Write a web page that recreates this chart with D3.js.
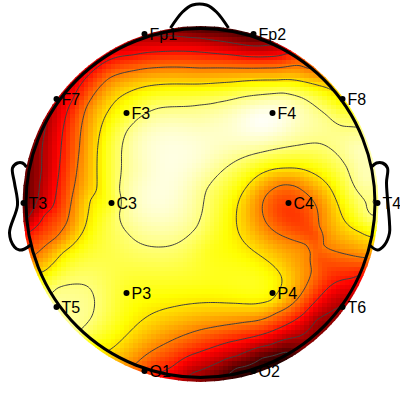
<!DOCTYPE html>
<html><head><meta charset="utf-8">
<style>html,body{margin:0;padding:0;background:#fff}svg{display:block}</style>
<script src="https://cdnjs.cloudflare.com/ajax/libs/d3/7.8.5/d3.min.js"></script>
</head><body><svg id="c" width="400" height="400"></svg>
<script>
// Head coordinates: centre 0,0; scalp radius 174.5; y up.
const electrodeNames=["Fp1","Fp2","F7","F3","F4","F8","T3","C3","C4","T4","T5","P3","P4","T6","O1","O2"];
const electrodeX=[-56,53,-144,-74,72,142,-177,-89,88,177,-144,-74,72,142,-56,53];
const electrodeY=[169,169,104,90,90,104,0,0,0,0,-104,-90,-90,-104,-168,-168];
const electrodeValues=[.24,.1,.3,.79,.98,.72,.14,.8,.47,.86,.92,.78,.73,.25,.48,.05];

// Iso-value readings [x,y] by level
const levels=[.10,.25,.40,.555,.71,.87];
const iso0=[[86,-149],[62,-155],[36,-165],[26,-173]];
const iso1=[[-41,167],[-1,165],[32,160],[69,158],[-154,83],[-156,70],[-159,33],[-161,18],[-166,-4],[-173,-15],[141,-102],[116,-117],[96,-134],[69,-142],[36,-153],[19,-159],[-8,-170]];
const iso2=[[-148,-4],[-143,20],[-138,70],[-128,103],[-104,135],[-68,148],[-1,151],[32,148],[82,148],[-156,-12],[-171,-29],[152,-75],[134,-80],[119,-94],[104,-110],[79,-125],[52,-134],[29,-139],[-1,-149],[-29,-164]];
const iso3=[[-129,3],[-124,30],[-121,56],[-114,96],[-91,125],[-58,134],[-1,135],[66,135],[106,135],[-134,-20],[-144,-34],[-166,-52],[82,18],[94,17],[64,5],[62,-9],[69,-24],[87,-35],[106,-42],[104,11],[116,-4],[119,-24],[123,-42],[131,-47],[159,-54],[110,-50],[111,-67],[107,-80],[96,-97],[76,-110],[46,-119],[19,-123],[-1,-127],[-34,-140],[-64,-160]];
const iso4=[[-110,3],[-104,13],[-103,53],[-98,80],[-84,103],[-61,115],[-1,119],[32,121],[76,123],[109,120],[127,115],[141,107],[-113,-14],[-121,-34],[-138,-50],[-158,-69],[159,-29],[142,-14],[129,16],[112,30],[86,35],[62,30],[46,16],[36,-10],[42,-37],[56,-50],[72,-62],[81,-74],[81,-82],[71,-97],[52,-101],[26,-100],[-1,-100],[-28,-104],[-54,-114],[-71,-129],[-91,-147],[171,-34]];
const iso5=[[-1,98],[-41,95],[-64,83],[-73,73],[-79,50],[-81,13],[-81,-10],[-73,-30],[-61,-40],[-41,-44],[-21,-39],[-4,-24],[2,-7],[6,13],[32,40],[62,51],[99,58],[116,60],[129,55],[139,46],[146,36],[151,23],[156,13],[166,-4],[171,-12],[19,101],[42,106],[82,110],[102,105],[126,88],[142,77],[154,76],[-151,-92],[-143,-85],[-124,-81],[-111,-85],[-106,-97],[-109,-114],[-118,-125],[-123,-129]];
const isoSets=[iso0,iso1,iso2,iso3,iso4,iso5];

// Other spot readings [x,y,value]
const interiorReadings=[[-31,53,.97],[-51,63,.95],[-11,63,.96],[-51,3,.96],[-31,-7,.95],[-61,33,.93],[59,85,.99],[29,78,.95],[99,81,.93],[-1,83,.92],[-1,43,.95],[-91,-52,.82],[-1,-77,.78],[-41,-77,.79],[9,-47,.78],[84,-7,.46],[99,-22,.47],[134,-62,.48],[92,-60,.63],[114,-42,.51],[114,-30,.49],[118,-55,.5],[152,-6,.79],[128,-8,.63],[159,53,.93],[163,25,.92]];
const rimReadings=[[-1,176,.1],[34,173,.1],[-34,173,.2],[-81,156,.32],[-125,125,.33],[-150,92,.27],[-172,33,.16],[-165,60,.2],[-165,-75,.75],[-140,-105,.9],[-115,-140,.78],[-50,-167,.45],[0,-176,.2],[40,-172,.06],[60,-166,.05],[100,-147,.16],[125,-124,.2],[160,-72,.4],[171,-40,.68],[175,-8,.88],[170,47,.92],[150,92,.8],[120,128,.6],[100,145,.5]];

const noseOutline=[[-30,175],[-18,191],[-8,198],[6,198],[16,191],[28,175]];
const leftEarOutline=[[-174,36],[-178,40],[-183,40],[-188,35],[-186,20],[-183,-2],[-191,-30],[-186,-44],[-181,-47],[-176,-46],[-170,-42]];
const rightEarOutline=[[171,36],[176,40],[182,40],[187,35],[186,20],[189,-20],[189,-30],[184,-42],[177,-47],[169,-42]];

const heatStops=[0,.375,.75,1];
const heatColors=["#0a0000","#ff0000","#ffff00","#ffffff"];
const cellCount=80, lineGrid=160, gridHalf=180;
const headRadius=174.5, diskRadius=178;

const x=d3.scaleLinear([-174.5,174.5],[26,375]);
const y=d3.scaleLinear([-174.5,174.5],[377.5,28.5]);
const color=d3.scaleLinear(heatStops,heatColors).clamp(true);

// Collect readings
const samples=[];
electrodeNames.forEach((n,i)=>samples.push([electrodeX[i],electrodeY[i],electrodeValues[i]]));
isoSets.forEach((s,k)=>s.forEach(p=>samples.push([p[0],p[1],levels[k]])));
interiorReadings.concat(rimReadings).forEach(p=>samples.push(p));

// Thin-plate spline through readings (the usual topographic map interpolation)
const N=samples.length, S=176, lambda=2e-4;
const kern=r2=>r2>0?0.5*r2*Math.log(r2):0;
const A=[];
for(let i=0;i<N+3;i++){A.push(new Float64Array(N+4));}
for(let i=0;i<N;i++){
  const xi=samples[i][0]/S, yi=samples[i][1]/S;
  for(let j=0;j<N;j++){
    const dx=xi-samples[j][0]/S, dy=yi-samples[j][1]/S;
    A[i][j]=kern(dx*dx+dy*dy)+(i===j?lambda:0);
  }
  A[i][N]=1;A[i][N+1]=xi;A[i][N+2]=yi;
  A[N][i]=1;A[N+1][i]=xi;A[N+2][i]=yi;
  A[i][N+3]=samples[i][2];
}
for(let c=0;c<N+3;c++){
  let p=c;for(let r=c+1;r<N+3;r++)if(Math.abs(A[r][c])>Math.abs(A[p][c]))p=r;
  const t=A[c];A[c]=A[p];A[p]=t;
  for(let r=c+1;r<N+3;r++){
    const f=A[r][c]/A[c][c];if(f===0)continue;
    for(let k=c;k<N+4;k++)A[r][k]-=f*A[c][k];
  }
}
const w=new Float64Array(N+3);
for(let r=N+2;r>=0;r--){
  let s=A[r][N+3];
  for(let k=r+1;k<N+3;k++)s-=A[r][k]*w[k];
  w[r]=s/A[r][r];
}
function field(px,py){
  const a=px/S,b=py/S;
  let v=w[N]+w[N+1]*a+w[N+2]*b;
  for(let i=0;i<N;i++){
    const dx=a-samples[i][0]/S,dy=b-samples[i][1]/S;
    v+=w[i]*kern(dx*dx+dy*dy);
  }
  return v;
}

const svg=d3.select("#c");
const defs=svg.append("defs");
defs.append("clipPath").attr("id","disk").append("circle")
  .attr("cx",x(0)).attr("cy",y(-1)).attr("r",diskRadius);
defs.append("clipPath").attr("id","scalp").append("circle")
  .attr("cx",x(0)).attr("cy",y(0)).attr("r",headRadius+1);

// Colour cells
const cellEdge=d3.scaleLinear([0,cellCount],[-gridHalf,gridHalf]);
const cells=[];
for(let j=0;j<cellCount;j++)for(let i=0;i<cellCount;i++){
  const cx=cellEdge(i+.5),cy=cellEdge(j+.5);
  if(Math.hypot(cx,cy+1)<185) cells.push({i,j,v:field(cx,cy)});
}
svg.append("g").attr("clip-path","url(#disk)").attr("shape-rendering","crispEdges")
  .selectAll("rect").data(cells).join("rect")
  .attr("x",d=>x(cellEdge(d.i)))
  .attr("y",d=>y(cellEdge(d.j+1)))
  .attr("width",d=>x(cellEdge(d.i+1))-x(cellEdge(d.i))+.5)
  .attr("height",d=>y(cellEdge(d.j))-y(cellEdge(d.j+1))+.5)
  .attr("fill",d=>color(d.v));

// Contours
const lineEdge=d3.scaleLinear([0,lineGrid-1],[-gridHalf,gridHalf]);
const grid=new Float64Array(lineGrid*lineGrid);
for(let j=0;j<lineGrid;j++)for(let i=0;i<lineGrid;i++){
  grid[j*lineGrid+i]=field(lineEdge(i),lineEdge(j));
}
const contours=d3.contours().size([lineGrid,lineGrid]).smooth(true).thresholds(levels)(grid);
const proj=d3.geoTransform({point(a,b){this.stream.point(x(lineEdge(a-.5)),y(lineEdge(b-.5)));}});
svg.append("g").attr("clip-path","url(#scalp)")
  .selectAll("path").data(contours).join("path")
  .attr("d",d3.geoPath(proj)).attr("fill","none")
  .attr("stroke","#404040").attr("stroke-width",1);

// Head outline
const outline=d3.line().x(d=>x(d[0])).y(d=>y(d[1])).curve(d3.curveCatmullRom);
[noseOutline,leftEarOutline,rightEarOutline].forEach(o=>{
  svg.append("path").attr("d",outline(o)).attr("fill","none")
    .attr("stroke","#000").attr("stroke-width",3).attr("stroke-linejoin","round");
});
svg.append("circle").attr("cx",x(0)).attr("cy",y(0)).attr("r",headRadius)
  .attr("fill","none").attr("stroke","#000").attr("stroke-width",3);

// Electrodes
const eg=svg.append("g").selectAll("g").data(electrodeNames).join("g");
eg.append("circle").attr("cx",(d,i)=>x(electrodeX[i])).attr("cy",(d,i)=>y(electrodeY[i])).attr("r",3).attr("fill","#000");
eg.append("text").attr("x",(d,i)=>x(electrodeX[i])+5).attr("y",(d,i)=>y(electrodeY[i])+6)
  .attr("font-family","'Liberation Sans',Arial,sans-serif").attr("font-size",16).attr("fill","#000").text(d=>d);
</script></body></html>
